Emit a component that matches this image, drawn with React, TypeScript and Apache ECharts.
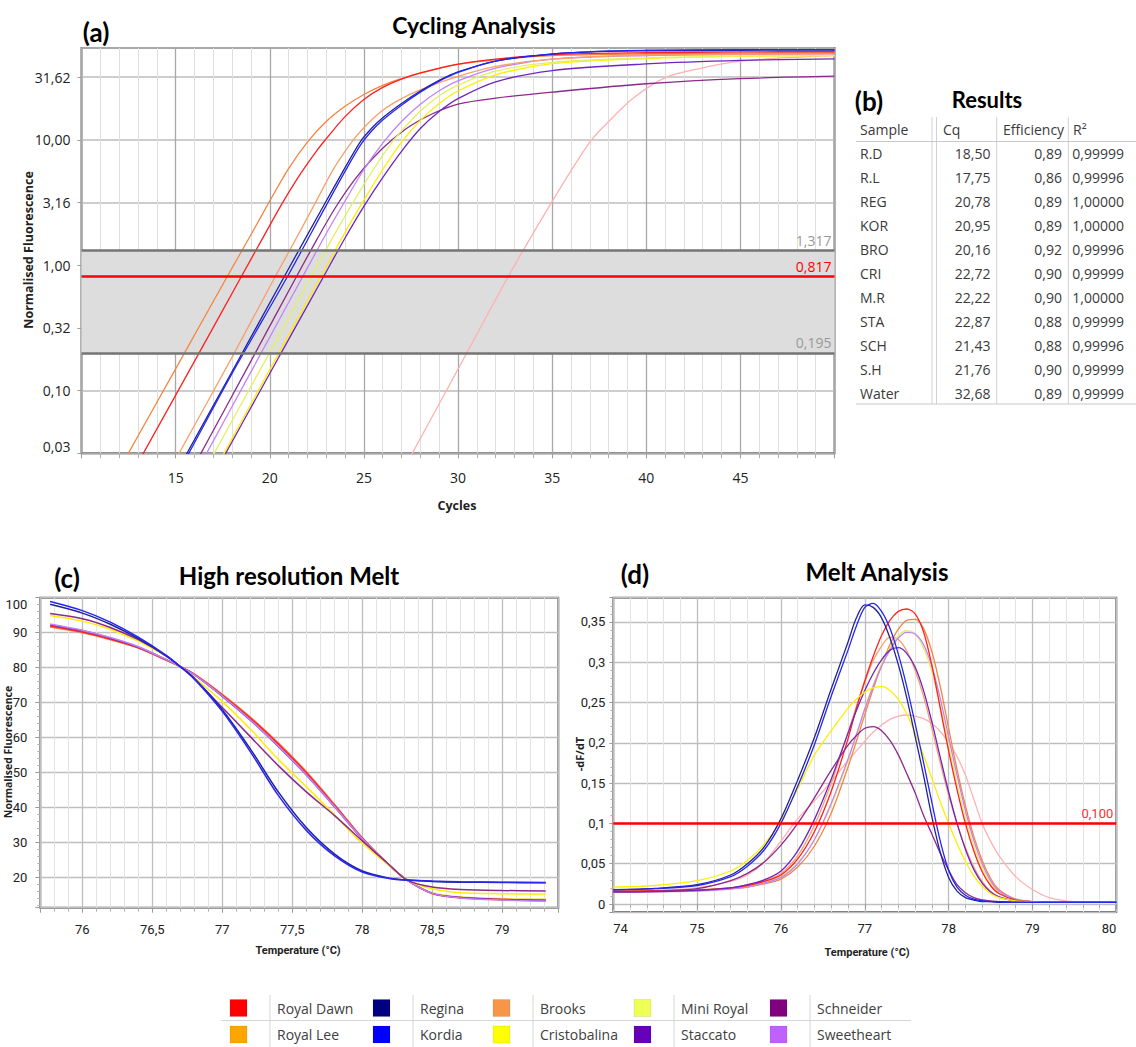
import React, { useEffect, useRef } from 'react';
import * as echarts from 'echarts';

// ---------------- (a) Cycling analysis : [cycle, normalised fluorescence] ----------------
const ampRoyalDawn = [[13,0.0265],[16,0.171],[18.5,0.817],[19.5,1.52],[20.5,2.83],[21.5,5.0],[22.5,8.2],[23,10.2],[24,15.3],[25,21.0],[26,26.2],[27,30.5],[28,34.2],[30,40.2],[32,44.0],[35,47.8],[40,49.5],[45,50.2],[50,50.6]];
const ampRoyalLee = [[12,0.0234],[15,0.149],[17.75,0.817],[19,1.75],[20,3.25],[21,5.9],[22,9.6],[23,14.0],[24,18.5],[25,23.0],[26,27.2],[27,30.8],[28,34.0],[30,40.0],[32,43.5],[35,47.0],[40,48.5],[45,49.2],[50,49.5]];
const ampRegina = [[15,0.0217],[18,0.142],[20.78,0.817],[23,3.25],[24,6.0],[24.8,9.6],[25.4,12.3],[26,15.0],[27,19.5],[28,24.5],[29,29.8],[30,34.8],[32,42.5],[35,48.3],[38,50.8],[40,51.3],[45,51.8],[50,52.0]];
const ampKordia = [[15,0.0201],[18,0.137],[20.95,0.817],[23,3.0],[24,5.6],[24.8,9.0],[25.4,11.7],[26,14.4],[27,18.9],[28,24.0],[29,29.4],[30,34.5],[32,42.5],[35,48.5],[38,51.2],[40,51.8],[45,52.3],[50,52.5]];
const ampBrooks = [[15,0.0282],[18,0.185],[20.3,0.817],[21.3,1.53],[22.4,3.1],[23.4,5.9],[24.4,9.8],[25,12.5],[26,17.2],[27,21.3],[28,25.0],[30,32.0],[32,38.5],[35,44.0],[40,47.5],[45,48.2],[50,48.5]];
const ampCristobalina = [[17,0.0221],[20,0.147],[22.72,0.817],[24,1.83],[25,3.3],[26,5.8],[27,9.6],[28,14.3],[29,19.5],[30,24.5],[32,33.0],[35,40.5],[40,44.5],[45,46.3],[50,47.0]];
const ampMiniRoyal = [[17,0.0307],[20,0.202],[22.22,0.817],[23.5,1.83],[24.5,3.3],[25.5,5.8],[26.5,9.6],[27,11.8],[28,17.0],[29,22.5],[30,27.3],[32,35.3],[35,41.5],[40,45.0],[45,46.5],[50,47.0]];
const ampStaccato = [[17,0.0209],[20,0.137],[22.87,0.817],[24,1.65],[25,2.95],[26,5.0],[27,8.1],[28,12.3],[29,16.8],[30,21.3],[32,29.0],[35,35.7],[40,40.3],[45,43.0],[50,44.3]];
const ampSchneider = [[16,0.0254],[19,0.172],[21.43,0.817],[22.5,1.6],[23.5,2.9],[24.5,4.8],[25.5,7.2],[26.5,10.0],[27.5,13.0],[28.7,16.3],[30,19.3],[32,21.5],[35,24.0],[40,28.0],[45,30.8],[50,32.2]];
const ampSweetheart = [[16,0.021],[19,0.141],[21.76,0.817],[23,1.79],[24,3.25],[25,5.8],[26,9.4],[27,14.0],[28,19.2],[29,24.6],[30,29.5],[32,37.3],[35,44.0],[40,47.0],[45,48.0],[50,48.5]];
const ampWater = [[27,0.022],[30,0.148],[32.68,0.817],[35.05,3.32],[37,9.6],[38,14.0],[39.3,21.5],[41.07,31.6],[43,37.5],[44.6,41.6],[47,44.8],[50,47.0]];

const cyclingThreshold = 0.817;
const thresholdBandLow = 0.195;
const thresholdBandHigh = 1.317;

// ---------------- (b) Results table ----------------
const tableHeaders = ['Sample', 'Cq', 'Efficiency', 'R²'];
const samples = ['R.D', 'R.L', 'REG', 'KOR', 'BRO', 'CRI', 'M.R', 'STA', 'SCH', 'S.H', 'Water'];
const cqValues = [18.50, 17.75, 20.78, 20.95, 20.16, 22.72, 22.22, 22.87, 21.43, 21.76, 32.68];
const efficiencies = [0.89, 0.86, 0.89, 0.89, 0.92, 0.90, 0.90, 0.88, 0.88, 0.90, 0.89];
const r2Values = [0.99999, 0.99996, 1.00000, 1.00000, 0.99996, 0.99999, 1.00000, 0.99999, 0.99996, 0.99999, 0.99999];

// ---------------- (c) High resolution melt ----------------
const hrmTemps = [75.77, 76.0, 76.2, 76.4, 76.6, 76.7, 76.8, 77.0, 77.2, 77.4, 77.6, 77.8, 78.0, 78.2, 78.32, 78.5, 78.7, 79.0, 79.31];
const hrmRoyalDawn = [91.9, 90.2, 88.2, 85.7, 82.2, 80.3, 78.1, 72.2, 65.6, 58.2, 50.0, 40.8, 31.3, 23.3, 19.3, 15.5, 14.3, 13.8, 13.6];
const hrmRoyalLee = [91.6, 90.0, 88.0, 85.6, 82.1, 80.3, 78.2, 72.4, 65.9, 58.5, 50.3, 41.0, 31.4, 23.3, 19.3, 15.4, 14.2, 13.7, 13.5];
const hrmBrooks = [92.0, 90.4, 88.3, 85.8, 82.2, 80.3, 78.0, 72.0, 65.3, 57.8, 49.6, 40.5, 31.2, 23.3, 19.3, 15.6, 14.4, 13.9, 13.8];
const hrmMiniRoyal = [92.1, 90.5, 88.4, 85.8, 82.3, 80.3, 78.0, 71.9, 65.2, 57.7, 49.5, 40.4, 31.1, 23.3, 19.3, 15.7, 14.5, 14.0, 13.9];
const hrmStaccato = [92.3, 90.6, 88.5, 85.9, 82.3, 80.3, 78.0, 71.8, 65.0, 57.5, 49.3, 40.3, 31.0, 23.2, 19.3, 15.5, 14.3, 13.7, 13.4];
const hrmSweetheart = [92.5, 90.7, 88.6, 86.0, 82.3, 80.3, 78.0, 71.9, 65.1, 57.6, 49.4, 40.4, 31.1, 23.3, 19.3, 15.5, 14.2, 13.6, 13.3];
const hrmCristobalina = [94.9, 93.3, 91.0, 87.6, 83.2, 80.3, 77.2, 70.3, 62.5, 53.8, 46.0, 38.0, 29.8, 23.2, 19.3, 16.8, 15.7, 15.4, 15.3];
const hrmSchneider = [95.5, 94.0, 91.5, 88.0, 83.4, 80.3, 76.8, 68.6, 60.3, 52.0, 44.5, 37.8, 30.5, 23.4, 19.3, 17.3, 16.6, 16.3, 16.2];
const hrmRegina = [98.1, 95.6, 92.4, 88.3, 83.3, 80.3, 77.0, 68.0, 56.8, 44.5, 34.3, 26.8, 21.9, 19.8, 19.3, 18.9, 18.7, 18.6, 18.5];
const hrmKordia = [98.9, 96.3, 93.0, 88.7, 83.5, 80.3, 76.8, 67.5, 56.0, 43.5, 33.5, 26.3, 21.6, 19.7, 19.3, 19.0, 18.8, 18.7, 18.6];

// ---------------- (d) Melt analysis (-dF/dT) ----------------
const meltTemps = [74, 74.5, 75, 75.4, 75.6, 75.8, 76, 76.2, 76.4, 76.6, 76.8, 76.9, 77, 77.1, 77.2, 77.3, 77.4, 77.5, 77.6, 77.7, 77.8, 77.9, 78, 78.1, 78.2, 78.3, 78.4, 78.5, 78.6, 78.8, 79, 79.2, 79.5, 80];
const meltKordia = [0.0175, 0.019, 0.023, 0.034, 0.047, 0.067, 0.1, 0.146, 0.198, 0.258, 0.315, 0.345, 0.368, 0.373, 0.363, 0.342, 0.31, 0.27, 0.224, 0.176, 0.126, 0.078, 0.042, 0.021, 0.011, 0.006, 0.004, 0.003, 0.003, 0.002, 0.002, 0.002, 0.002, 0.002];
const meltRegina = [0.018, 0.0195, 0.024, 0.036, 0.05, 0.071, 0.106, 0.154, 0.207, 0.267, 0.325, 0.355, 0.371, 0.368, 0.355, 0.33, 0.297, 0.256, 0.208, 0.16, 0.108, 0.064, 0.033, 0.016, 0.008, 0.005, 0.003, 0.003, 0.002, 0.002, 0.002, 0.002, 0.002, 0.002];
const meltRoyalDawn = [0.016, 0.0165, 0.0175, 0.02, 0.023, 0.028, 0.036, 0.056, 0.09, 0.14, 0.205, 0.243, 0.277, 0.307, 0.333, 0.352, 0.363, 0.366, 0.36, 0.338, 0.296, 0.243, 0.19, 0.142, 0.1, 0.066, 0.04, 0.023, 0.013, 0.005, 0.003, 0.002, 0.002, 0.002];
const meltRoyalLee = [0.015, 0.0155, 0.0165, 0.019, 0.021, 0.025, 0.031, 0.046, 0.072, 0.113, 0.17, 0.202, 0.235, 0.267, 0.296, 0.322, 0.341, 0.352, 0.353, 0.342, 0.313, 0.27, 0.218, 0.167, 0.122, 0.084, 0.054, 0.032, 0.018, 0.006, 0.003, 0.002, 0.002, 0.002];
const meltBrooks = [0.016, 0.0165, 0.0175, 0.02, 0.024, 0.029, 0.038, 0.06, 0.098, 0.15, 0.213, 0.245, 0.275, 0.302, 0.32, 0.331, 0.328, 0.314, 0.29, 0.258, 0.218, 0.175, 0.135, 0.1, 0.07, 0.046, 0.028, 0.016, 0.009, 0.004, 0.003, 0.002, 0.002, 0.002];
const meltStaccato = [0.015, 0.0155, 0.017, 0.02, 0.024, 0.03, 0.041, 0.066, 0.105, 0.155, 0.212, 0.24, 0.265, 0.286, 0.303, 0.315, 0.318, 0.311, 0.294, 0.265, 0.226, 0.182, 0.139, 0.1, 0.068, 0.043, 0.026, 0.015, 0.009, 0.004, 0.003, 0.002, 0.002, 0.002];
const meltSweetheart = [0.0145, 0.015, 0.016, 0.0185, 0.021, 0.026, 0.033, 0.05, 0.08, 0.125, 0.18, 0.21, 0.242, 0.27, 0.295, 0.315, 0.33, 0.337, 0.335, 0.322, 0.295, 0.255, 0.207, 0.16, 0.116, 0.079, 0.05, 0.029, 0.016, 0.006, 0.003, 0.002, 0.002, 0.002];
const meltMiniRoyal = [0.016, 0.0165, 0.0175, 0.02, 0.022, 0.027, 0.034, 0.051, 0.08, 0.123, 0.178, 0.21, 0.243, 0.272, 0.298, 0.318, 0.333, 0.339, 0.335, 0.318, 0.288, 0.246, 0.198, 0.15, 0.107, 0.072, 0.045, 0.026, 0.015, 0.006, 0.003, 0.002, 0.002, 0.002];
const meltCristobalina = [0.021, 0.023, 0.029, 0.041, 0.054, 0.074, 0.103, 0.143, 0.185, 0.215, 0.243, 0.254, 0.263, 0.268, 0.27, 0.265, 0.254, 0.236, 0.212, 0.185, 0.156, 0.127, 0.1, 0.075, 0.053, 0.035, 0.022, 0.013, 0.008, 0.004, 0.003, 0.002, 0.002, 0.002];
const meltSchneider = [0.015, 0.016, 0.019, 0.029, 0.038, 0.052, 0.073, 0.1, 0.132, 0.166, 0.197, 0.209, 0.218, 0.22, 0.215, 0.203, 0.185, 0.162, 0.138, 0.11, 0.087, 0.063, 0.042, 0.024, 0.014, 0.008, 0.005, 0.004, 0.003, 0.002, 0.002, 0.002, 0.002, 0.002];
const meltWater = [0.016, 0.017, 0.02, 0.028, 0.036, 0.052, 0.078, 0.106, 0.128, 0.152, 0.178, 0.19, 0.202, 0.213, 0.222, 0.229, 0.233, 0.2345, 0.233, 0.23, 0.224, 0.214, 0.2, 0.183, 0.16, 0.13, 0.1, 0.078, 0.06, 0.034, 0.018, 0.008, 0.003, 0.002];
const meltThreshold = 0.1;

// ---------------- Legend ----------------
const legendNames = ['Royal Dawn', 'Royal Lee', 'Regina', 'Kordia', 'Brooks', 'Cristobalina', 'Mini Royal', 'Staccato', 'Schneider', 'Sweetheart'];
const legendColors = ['#FF0000', '#FFA500', '#000080', '#0000FF', '#F79646', '#FFFF00', '#EEFF55', '#6600BB', '#800080', '#BF60FF'];

// line colours as drawn in the plots
const lineColors: Record<string, string> = {
  'Royal Dawn': '#FF2020',
  'Royal Lee': '#F5843F',
  Regina: '#22229A',
  Kordia: '#2626F5',
  Brooks: '#F7A06A',
  Cristobalina: '#FFEE00',
  'Mini Royal': '#E3F060',
  Staccato: '#7024C0',
  Schneider: '#8C2A8C',
  Sweetheart: '#C282F7',
  Water: '#FFB0B0',
};

const pairs = (xs: number[], ys: number[]) => xs.map((x, i) => [x, ys[i]]);
const comma = (s: string) => s.replace('.', ',');

const SANS = "'Open Sans', 'Noto Sans', sans-serif";
const NARROW = "'Liberation Sans Narrow', Roboto, 'Open Sans', sans-serif";
const TITLE = "Lato, 'Open Sans', sans-serif";

function lineSeries(name: string, data: number[][], xi: number, yi: number, width: number) {
  const color = lineColors[name];
  return {
    type: 'line', name, data, xAxisIndex: xi, yAxisIndex: yi,
    showSymbol: false, symbol: 'none', smooth: 0.3,
    lineStyle: { color, width }, itemStyle: { color }, z: 2, silent: true,
  };
}

function buildOption() {
  const ampSeries: [string, number[][]][] = [
    ['Water', ampWater], ['Schneider', ampSchneider], ['Staccato', ampStaccato], ['Cristobalina', ampCristobalina],
    ['Mini Royal', ampMiniRoyal], ['Sweetheart', ampSweetheart], ['Brooks', ampBrooks], ['Royal Lee', ampRoyalLee],
    ['Royal Dawn', ampRoyalDawn], ['Regina', ampRegina], ['Kordia', ampKordia],
  ];
  const hrmSeries: [string, number[]][] = [
    ['Royal Lee', hrmRoyalLee], ['Brooks', hrmBrooks], ['Mini Royal', hrmMiniRoyal], ['Royal Dawn', hrmRoyalDawn],
    ['Staccato', hrmStaccato], ['Sweetheart', hrmSweetheart], ['Cristobalina', hrmCristobalina], ['Schneider', hrmSchneider],
    ['Regina', hrmRegina], ['Kordia', hrmKordia],
  ];
  const meltSeries: [string, number[]][] = [
    ['Water', meltWater], ['Royal Lee', meltRoyalLee], ['Brooks', meltBrooks], ['Mini Royal', meltMiniRoyal],
    ['Sweetheart', meltSweetheart], ['Royal Dawn', meltRoyalDawn], ['Staccato', meltStaccato], ['Cristobalina', meltCristobalina],
    ['Schneider', meltSchneider], ['Regina', meltRegina], ['Kordia', meltKordia],
  ];

  const series: any[] = [];
  // threshold band (under grid lines)
  series.push({
    type: 'line', data: [], xAxisIndex: 0, yAxisIndex: 0, z: -1, silent: true,
    markArea: { silent: true, itemStyle: { color: '#DDDDDD' }, data: [[{ yAxis: thresholdBandLow }, { yAxis: thresholdBandHigh }]] },
  });
  ampSeries.forEach(([n, d]) => series.push(lineSeries(n, d, 0, 0, 1.3)));
  series.push({
    type: 'line', data: [], xAxisIndex: 0, yAxisIndex: 0, z: 6, silent: true,
    markLine: {
      silent: true, symbol: 'none', animation: false,
      label: { position: 'insideEndTop', fontSize: 14, fontFamily: SANS, distance: 3 },
      data: [
        { yAxis: thresholdBandHigh, lineStyle: { color: '#747474', width: 2.5, type: 'solid' }, label: { formatter: comma(thresholdBandHigh.toFixed(3)), color: '#9a9a9a' } },
        { yAxis: thresholdBandLow, lineStyle: { color: '#747474', width: 2.5, type: 'solid' }, label: { formatter: comma(thresholdBandLow.toFixed(3)), color: '#9a9a9a' } },
        { yAxis: cyclingThreshold, lineStyle: { color: '#FF0000', width: 2.5, type: 'solid' }, label: { formatter: comma(cyclingThreshold.toFixed(3)), color: '#FF0000' } },
      ],
    },
  });
  hrmSeries.forEach(([n, v]) => series.push(lineSeries(n, pairs(hrmTemps, v), 1, 1, 1.5)));
  meltSeries.forEach(([n, v]) => series.push(lineSeries(n, pairs(meltTemps, v), 3, 2, 1.3)));
  series.push({
    type: 'line', data: [], xAxisIndex: 3, yAxisIndex: 2, z: 6, silent: true,
    markLine: {
      silent: true, symbol: 'none', animation: false,
      data: [{ yAxis: meltThreshold, lineStyle: { color: '#FF0000', width: 2.5, type: 'solid' },
        label: { formatter: comma(meltThreshold.toFixed(3)), color: '#FF3030', position: 'insideEndTop', fontSize: 13, fontFamily: NARROW, distance: 3 } }],
    },
  });

  const gridBase = { show: true, borderColor: '#6e6e6e', borderWidth: 2, backgroundColor: 'transparent' };
  const majorLine = { show: true, lineStyle: { color: '#BEBEBE', width: 1.3 } };
  const minorLine = { show: true, lineStyle: { color: '#E3E3E3', width: 1 } };

  const graphics: any[] = [];
  const txt = (text: string, x: number, y: number, font: string, fill: string, align = 'center', rotation = 0) => {
    graphics.push({
      type: 'text', x, y, rotation, silent: true,
      style: { text, font, fill, textAlign: align, align, textVerticalAlign: 'middle', verticalAlign: 'middle' },
    });
  };
  const seg = (x1: number, y1: number, x2: number, y2: number, stroke: string, w = 1) => {
    graphics.push({ type: 'line', silent: true, shape: { x1, y1, x2, y2 }, style: { stroke, lineWidth: w } });
  };

  // titles
  txt('(a)', 96, 32, `bold 26px ${TITLE}`, '#000');
  txt('Cycling Analysis', 474, 25, `bold 23px ${TITLE}`, '#000');
  txt('(b)', 869, 101, `bold 26px ${TITLE}`, '#000');
  txt('Results', 987, 99, `bold 22px ${TITLE}`, '#000');
  txt('(c)', 67, 578, `bold 26px ${TITLE}`, '#000');
  txt('High resolution Melt', 289, 575, `bold 24px ${TITLE}`, '#000');
  txt('(d)', 635, 574, `bold 26px ${TITLE}`, '#000');
  txt('Melt Analysis', 877, 571, `bold 24px ${TITLE}`, '#000');

  // axis names
  txt('Cycles', 457, 505, `bold 12.5px ${SANS}`, '#222');
  txt('Normalised Fluorescence', 28, 250, `bold 12.5px ${SANS}`, '#222', 'center', Math.PI / 2);
  txt('Temperature (°C)', 298, 950, `bold 11px ${NARROW}`, '#222');
  txt('Normalised Fluorescence', 8, 752, `bold 10.5px ${SANS}`, '#222', 'center', Math.PI / 2);
  txt('Temperature (°C)', 867, 952, `bold 11px ${NARROW}`, '#222');
  txt('-dF/dT', 579, 754, `bold 11px ${SANS}`, '#222', 'center', Math.PI / 2);

  // results table
  const headerY = 129.3, rowY0 = 153.3, rowStep = 24.04;
  const tFont = `14px ${SANS}`, tCol = '#3a3a3a';
  [932, 936.5, 996.7, 1068.3].forEach((x) => seg(x, 117, x, 404, '#D2D2D2', 1));
  seg(856, 141.5, 1136, 141.5, '#C8C8C8', 1);
  seg(856, 404, 1136, 404, '#C8C8C8', 1);
  txt(tableHeaders[0], 860, headerY, tFont, tCol, 'left');
  txt(tableHeaders[1], 943, headerY, tFont, tCol, 'left');
  txt(tableHeaders[2], 1003, headerY, tFont, tCol, 'left');
  txt(tableHeaders[3], 1073, headerY, tFont, tCol, 'left');
  samples.forEach((s, i) => {
    const y = rowY0 + i * rowStep;
    txt(s, 860, y, tFont, tCol, 'left');
    txt(comma(cqValues[i].toFixed(2)), 990.5, y, tFont, tCol, 'right');
    txt(comma(efficiencies[i].toFixed(2)), 1062, y, tFont, tCol, 'right');
    txt(comma(r2Values[i].toFixed(5)), 1124, y, tFont, tCol, 'right');
  });

  // legend (2 rows x 5 columns)
  const legColX = [230, 373, 493, 634, 770];
  const legRowY = [1008, 1034.5];
  seg(221, 1020.5, 911, 1020.5, '#D6D6D6', 1);
  legColX.forEach((x) => seg(x + 40, 995, x + 40, 1047, '#D6D6D6', 1));
  legendNames.forEach((name, i) => {
    const col = Math.floor(i / 2), row = i % 2;
    const x = legColX[col], y = legRowY[row];
    graphics.push({ type: 'rect', silent: true, shape: { x, y: y - 8.5, width: 17, height: 17 }, style: { fill: legendColors[i], stroke: 'rgba(0,0,0,0.08)', lineWidth: 1 } });
    txt(name, x + 47, y, `14px ${SANS}`, '#404040', 'left');
  });

  return {
    animation: false,
    backgroundColor: '#ffffff',
    grid: [
      { ...gridBase, left: 81.5, top: 48, width: 753, height: 405.3 },
      { ...gridBase, left: 40.3, top: 597.7, width: 518, height: 310 },
      { ...gridBase, left: 613.3, top: 597.7, width: 503, height: 314.4 },
    ],
    xAxis: [
      {
        gridIndex: 0, type: 'value', min: 10, max: 50, interval: 5,
        axisLine: { show: false },
        axisTick: { show: true, length: 5, lineStyle: { color: '#9a9a9a' } },
        minorTick: { show: true, splitNumber: 5, length: 5, lineStyle: { color: '#b0b0b0' } },
        splitLine: { show: true, lineStyle: { color: '#A8A8A8', width: 1.3 } },
        minorSplitLine: { show: true, lineStyle: { color: '#DEDEDE', width: 1 } },
        axisLabel: { showMinLabel: false, showMaxLabel: false, fontSize: 14, color: '#222', margin: 17, fontFamily: SANS },
      },
      {
        gridIndex: 1, type: 'value', min: 75.7, max: 79.4, splitNumber: 7, z: 1,
        axisLine: { show: false },
        axisTick: { show: true, length: 5, lineStyle: { color: '#9a9a9a' } },
        minorTick: { show: true, splitNumber: 5, length: 4, lineStyle: { color: '#b0b0b0' } },
        splitLine: majorLine,
        axisLabel: { showMinLabel: false, showMaxLabel: false, fontSize: 13, color: '#222', margin: 15, fontFamily: NARROW, formatter: (v: number) => comma(String(+v.toFixed(2))) },
      },
      {
        gridIndex: 1, type: 'value', min: 75.7, max: 79.4, interval: 0.1, z: 0,
        axisLine: { show: false }, axisTick: { show: false }, axisLabel: { show: false },
        splitLine: minorLine,
      },
      {
        gridIndex: 2, type: 'value', min: 74, max: 80, interval: 1,
        axisLine: { show: false },
        axisTick: { show: true, length: 5, lineStyle: { color: '#9a9a9a' } },
        minorTick: { show: true, splitNumber: 5, length: 4, lineStyle: { color: '#b0b0b0' } },
        splitLine: majorLine, minorSplitLine: minorLine,
        axisLabel: { fontSize: 13, color: '#222', margin: 10, fontFamily: NARROW, alignMinLabel: 'left', alignMaxLabel: 'right' },
      },
    ],
    yAxis: [
      {
        gridIndex: 0, type: 'log', logBase: Math.sqrt(10), min: Math.pow(10, -1.5), max: 54,
        axisLine: { show: false },
        axisTick: { show: true, length: 4, lineStyle: { color: '#9a9a9a' } },
        splitLine: { show: true, lineStyle: { color: '#BDBDBD', width: 1.6 } },
        axisLabel: { showMaxLabel: false, fontSize: 14, color: '#222', margin: 11, fontFamily: SANS, verticalAlignMinLabel: 'bottom', formatter: (v: number) => comma(v.toFixed(2)) },
      },
      {
        gridIndex: 1, type: 'value', min: 11.4, max: 100, splitNumber: 9,
        axisLine: { show: false },
        axisTick: { show: true, length: 5, lineStyle: { color: '#9a9a9a' } },
        minorTick: { show: true, splitNumber: 5, length: 3, lineStyle: { color: '#b0b0b0' } },
        splitLine: majorLine,
        axisLabel: { showMinLabel: false, fontSize: 13, color: '#222', margin: 13, fontFamily: NARROW, verticalAlignMaxLabel: 'top' },
      },
      {
        gridIndex: 2, type: 'value', min: -0.01, max: 0.38, splitNumber: 8,
        axisLine: { show: false },
        axisTick: { show: true, length: 4, lineStyle: { color: '#9a9a9a' } },
        minorTick: { show: true, splitNumber: 5, length: 3, lineStyle: { color: '#b0b0b0' } },
        splitLine: majorLine,
        axisLabel: { showMinLabel: false, showMaxLabel: false, fontSize: 13, color: '#222', margin: 8, fontFamily: NARROW, formatter: (v: number) => comma(String(+v.toFixed(2))) },
      },
    ],
    series,
    graphic: { elements: graphics },
  };
}

export default function App() {
  const ref = useRef<HTMLDivElement>(null);
  useEffect(() => {
    document.body.style.margin = '0';
    if (!ref.current) return;
    const chart = echarts.init(ref.current, null, { renderer: 'svg' });
    chart.setOption(buildOption() as any);
    return () => chart.dispose();
  }, []);
  return <div ref={ref} style={{ width: 1136, height: 1047, background: '#fff' }} />;
}
